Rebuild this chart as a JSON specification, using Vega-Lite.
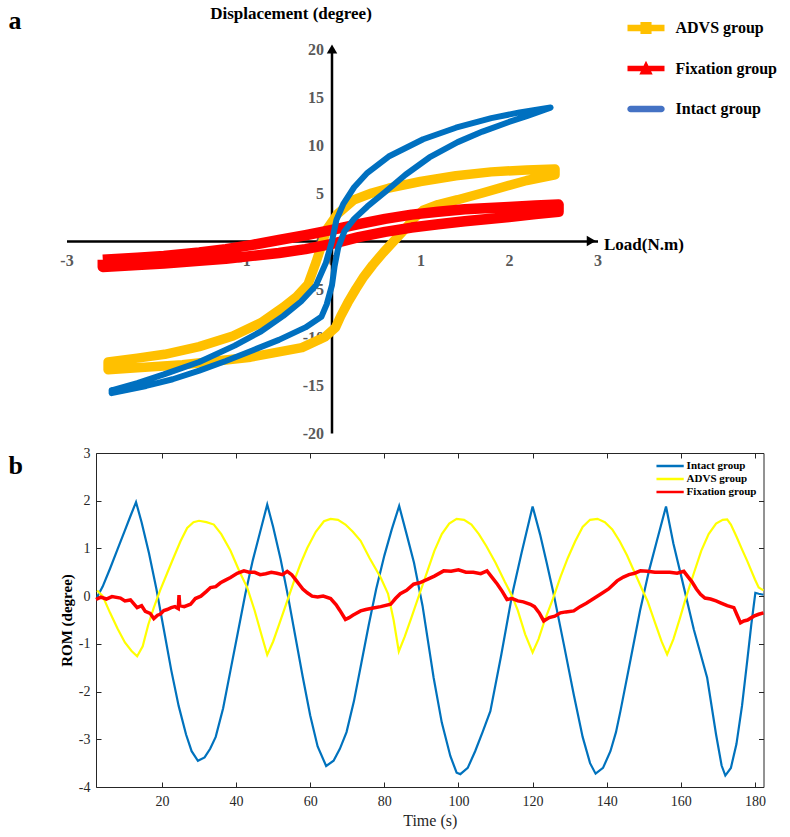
{
  "$schema": "https://vega.github.io/schema/vega-lite/v6.json",
  "padding": {"left": 8, "top": 4, "right": 5, "bottom": 5},
  "background": "white",
  "config": {"view": {"stroke": null}, "axis": {"grid": false}, "font": "Liberation Serif"},
  "spacing": 20,
  "bounds": "flush",
  "resolve": {"scale": {"color": "independent"}, "legend": {"color": "independent"}},
  "datasets": {
    "loops": [
      {"group":"ADVS group","i":0,"load":-2.53,"disp":-12.6},{"group":"ADVS group","i":1,"load":-2.2,"disp":-12.2},{"group":"ADVS group","i":2,"load":-1.89,"disp":-11.8},{"group":"ADVS group","i":3,"load":-1.5,"disp":-11.0},{"group":"ADVS group","i":4,"load":-1.12,"disp":-9.9},{"group":"ADVS group","i":5,"load":-0.8,"disp":-8.5},{"group":"ADVS group","i":6,"load":-0.55,"disp":-6.9},{"group":"ADVS group","i":7,"load":-0.4,"disp":-5.8},{"group":"ADVS group","i":8,"load":-0.27,"disp":-4.5},{"group":"ADVS group","i":9,"load":-0.18,"disp":-2.2},{"group":"ADVS group","i":10,"load":-0.06,"disp":1.2},{"group":"ADVS group","i":11,"load":0.06,"disp":2.8},{"group":"ADVS group","i":12,"load":0.25,"disp":4.3},{"group":"ADVS group","i":13,"load":0.45,"disp":5.0},{"group":"ADVS group","i":14,"load":0.64,"disp":5.5},{"group":"ADVS group","i":15,"load":1.0,"disp":6.2},{"group":"ADVS group","i":16,"load":1.4,"disp":6.8},{"group":"ADVS group","i":17,"load":1.8,"disp":7.2},{"group":"ADVS group","i":18,"load":2.2,"disp":7.4},{"group":"ADVS group","i":19,"load":2.52,"disp":7.5},{"group":"ADVS group","i":20,"load":2.52,"disp":6.9},{"group":"ADVS group","i":21,"load":2.2,"disp":6.3},{"group":"ADVS group","i":22,"load":2.0,"disp":5.8},{"group":"ADVS group","i":23,"load":1.7,"disp":5.0},{"group":"ADVS group","i":24,"load":1.42,"disp":4.3},{"group":"ADVS group","i":25,"load":1.2,"disp":3.8},{"group":"ADVS group","i":26,"load":1.03,"disp":3.2},{"group":"ADVS group","i":27,"load":0.93,"disp":2.4},{"group":"ADVS group","i":28,"load":0.82,"disp":1.2},{"group":"ADVS group","i":29,"load":0.7,"disp":0.0},{"group":"ADVS group","i":30,"load":0.58,"disp":-1.2},{"group":"ADVS group","i":31,"load":0.46,"disp":-2.5},{"group":"ADVS group","i":32,"load":0.36,"disp":-3.7},{"group":"ADVS group","i":33,"load":0.27,"disp":-5.0},{"group":"ADVS group","i":34,"load":0.18,"disp":-6.4},{"group":"ADVS group","i":35,"load":0.1,"disp":-7.8},{"group":"ADVS group","i":36,"load":0.04,"disp":-9.0},{"group":"ADVS group","i":37,"load":-0.08,"disp":-10.0},{"group":"ADVS group","i":38,"load":-0.34,"disp":-11.1},{"group":"ADVS group","i":39,"load":-0.92,"disp":-12.1},{"group":"ADVS group","i":40,"load":-1.69,"disp":-12.9},{"group":"ADVS group","i":41,"load":-2.2,"disp":-13.2},{"group":"ADVS group","i":42,"load":-2.53,"disp":-13.4},{"group":"ADVS group","i":43,"load":-2.53,"disp":-12.6},
      {"group":"Fixation group","i":0,"load":-2.59,"disp":-1.95},{"group":"Fixation group","i":1,"load":-2.2,"disp":-1.75},{"group":"Fixation group","i":2,"load":-1.9,"disp":-1.55},{"group":"Fixation group","i":3,"load":-1.5,"disp":-1.2},{"group":"Fixation group","i":4,"load":-1.2,"disp":-0.85},{"group":"Fixation group","i":5,"load":-0.9,"disp":-0.4},{"group":"Fixation group","i":6,"load":-0.6,"disp":0.1},{"group":"Fixation group","i":7,"load":-0.3,"disp":0.6},{"group":"Fixation group","i":8,"load":0.0,"disp":1.15},{"group":"Fixation group","i":9,"load":0.3,"disp":1.75},{"group":"Fixation group","i":10,"load":0.6,"disp":2.3},{"group":"Fixation group","i":11,"load":0.9,"disp":2.75},{"group":"Fixation group","i":12,"load":1.2,"disp":3.05},{"group":"Fixation group","i":13,"load":1.5,"disp":3.3},{"group":"Fixation group","i":14,"load":2.0,"disp":3.55},{"group":"Fixation group","i":15,"load":2.3,"disp":3.7},{"group":"Fixation group","i":16,"load":2.56,"disp":3.8},{"group":"Fixation group","i":17,"load":2.56,"disp":3.05},{"group":"Fixation group","i":18,"load":2.3,"disp":2.8},{"group":"Fixation group","i":19,"load":2.0,"disp":2.5},{"group":"Fixation group","i":20,"load":1.5,"disp":2.05},{"group":"Fixation group","i":21,"load":1.2,"disp":1.75},{"group":"Fixation group","i":22,"load":0.9,"disp":1.4},{"group":"Fixation group","i":23,"load":0.6,"disp":0.95},{"group":"Fixation group","i":24,"load":0.3,"disp":0.4},{"group":"Fixation group","i":25,"load":0.0,"disp":-0.3},{"group":"Fixation group","i":26,"load":-0.3,"disp":-0.85},{"group":"Fixation group","i":27,"load":-0.6,"disp":-1.25},{"group":"Fixation group","i":28,"load":-0.9,"disp":-1.55},{"group":"Fixation group","i":29,"load":-1.2,"disp":-1.85},{"group":"Fixation group","i":30,"load":-1.5,"disp":-2.05},{"group":"Fixation group","i":31,"load":-1.9,"disp":-2.35},{"group":"Fixation group","i":32,"load":-2.2,"disp":-2.5},{"group":"Fixation group","i":33,"load":-2.59,"disp":-2.7},{"group":"Fixation group","i":34,"load":-2.59,"disp":-1.95},
      {"group":"Intact group","i":0,"load":-2.49,"disp":-15.55},{"group":"Intact group","i":1,"load":-2.2,"disp":-14.8},{"group":"Intact group","i":2,"load":-1.9,"disp":-13.9},{"group":"Intact group","i":3,"load":-1.5,"disp":-12.6},{"group":"Intact group","i":4,"load":-1.1,"disp":-10.9},{"group":"Intact group","i":5,"load":-0.8,"disp":-9.4},{"group":"Intact group","i":6,"load":-0.55,"disp":-7.8},{"group":"Intact group","i":7,"load":-0.35,"disp":-6.3},{"group":"Intact group","i":8,"load":-0.18,"disp":-4.6},{"group":"Intact group","i":9,"load":-0.07,"disp":-2.3},{"group":"Intact group","i":10,"load":0.0,"disp":0.0},{"group":"Intact group","i":11,"load":0.05,"disp":2.2},{"group":"Intact group","i":12,"load":0.13,"disp":3.9},{"group":"Intact group","i":13,"load":0.25,"disp":5.6},{"group":"Intact group","i":14,"load":0.4,"disp":7.1},{"group":"Intact group","i":15,"load":0.64,"disp":8.8},{"group":"Intact group","i":16,"load":1.03,"disp":10.6},{"group":"Intact group","i":17,"load":1.4,"disp":11.8},{"group":"Intact group","i":18,"load":1.8,"disp":12.8},{"group":"Intact group","i":19,"load":2.12,"disp":13.4},{"group":"Intact group","i":20,"load":2.47,"disp":13.9},{"group":"Intact group","i":21,"load":2.2,"disp":13.0},{"group":"Intact group","i":22,"load":2.0,"disp":12.4},{"group":"Intact group","i":23,"load":1.7,"disp":11.4},{"group":"Intact group","i":24,"load":1.42,"disp":10.3},{"group":"Intact group","i":25,"load":1.1,"disp":8.7},{"group":"Intact group","i":26,"load":0.83,"disp":6.9},{"group":"Intact group","i":27,"load":0.6,"disp":5.1},{"group":"Intact group","i":28,"load":0.4,"disp":3.6},{"group":"Intact group","i":29,"load":0.25,"disp":2.3},{"group":"Intact group","i":30,"load":0.14,"disp":1.0},{"group":"Intact group","i":31,"load":0.07,"disp":-0.7},{"group":"Intact group","i":32,"load":0.03,"disp":-2.6},{"group":"Intact group","i":33,"load":0.0,"disp":-4.6},{"group":"Intact group","i":34,"load":-0.06,"disp":-6.6},{"group":"Intact group","i":35,"load":-0.12,"disp":-7.9},{"group":"Intact group","i":36,"load":-0.3,"disp":-9.0},{"group":"Intact group","i":37,"load":-0.6,"disp":-10.3},{"group":"Intact group","i":38,"load":-0.9,"disp":-11.4},{"group":"Intact group","i":39,"load":-1.2,"disp":-12.5},{"group":"Intact group","i":40,"load":-1.5,"disp":-13.5},{"group":"Intact group","i":41,"load":-1.8,"disp":-14.4},{"group":"Intact group","i":42,"load":-2.1,"disp":-15.1},{"group":"Intact group","i":43,"load":-2.49,"disp":-15.85},{"group":"Intact group","i":44,"load":-2.49,"disp":-15.55}
    ],
    "rom": [
      {"series":"Intact group","t":2.5,"rom":-0.02},{"series":"Intact group","t":4,"rom":0.2},{"series":"Intact group","t":6,"rom":0.58},{"series":"Intact group","t":8,"rom":0.98},{"series":"Intact group","t":10,"rom":1.38},{"series":"Intact group","t":11.5,"rom":1.68},{"series":"Intact group","t":13,"rom":1.97},{"series":"Intact group","t":14.5,"rom":1.55},{"series":"Intact group","t":16.5,"rom":0.9},{"series":"Intact group","t":18.5,"rom":0.15},{"series":"Intact group","t":20.5,"rom":-0.7},{"series":"Intact group","t":22.5,"rom":-1.55},{"series":"Intact group","t":24.5,"rom":-2.3},{"series":"Intact group","t":26.5,"rom":-2.9},{"series":"Intact group","t":28,"rom":-3.25},{"series":"Intact group","t":29.7,"rom":-3.45},{"series":"Intact group","t":31.5,"rom":-3.38},{"series":"Intact group","t":33,"rom":-3.2},{"series":"Intact group","t":34.5,"rom":-2.95},{"series":"Intact group","t":36.5,"rom":-2.35},{"series":"Intact group","t":38.5,"rom":-1.55},{"series":"Intact group","t":40.5,"rom":-0.75},{"series":"Intact group","t":42.5,"rom":0.05},{"series":"Intact group","t":44.5,"rom":0.75},{"series":"Intact group","t":46.5,"rom":1.35},{"series":"Intact group","t":48.4,"rom":1.92},{"series":"Intact group","t":50,"rom":1.45},{"series":"Intact group","t":52,"rom":0.78},{"series":"Intact group","t":54,"rom":0.0},{"series":"Intact group","t":56,"rom":-0.85},{"series":"Intact group","t":58,"rom":-1.7},{"series":"Intact group","t":60,"rom":-2.5},{"series":"Intact group","t":62,"rom":-3.15},{"series":"Intact group","t":64.3,"rom":-3.56},{"series":"Intact group","t":66.3,"rom":-3.45},{"series":"Intact group","t":68,"rom":-3.2},{"series":"Intact group","t":69.8,"rom":-2.85},{"series":"Intact group","t":71.8,"rom":-2.2},{"series":"Intact group","t":73.8,"rom":-1.4},{"series":"Intact group","t":75.8,"rom":-0.6},{"series":"Intact group","t":77.8,"rom":0.15},{"series":"Intact group","t":80,"rom":0.85},{"series":"Intact group","t":82,"rom":1.4},{"series":"Intact group","t":84,"rom":1.89},{"series":"Intact group","t":86,"rom":1.3},{"series":"Intact group","t":88,"rom":0.7},{"series":"Intact group","t":90.3,"rom":-0.2},{"series":"Intact group","t":93.3,"rom":-1.71},{"series":"Intact group","t":95.5,"rom":-2.65},{"series":"Intact group","t":97.8,"rom":-3.35},{"series":"Intact group","t":99.5,"rom":-3.7},{"series":"Intact group","t":100.5,"rom":-3.73},{"series":"Intact group","t":102.5,"rom":-3.6},{"series":"Intact group","t":104.5,"rom":-3.25},{"series":"Intact group","t":106.5,"rom":-2.85},{"series":"Intact group","t":108.6,"rom":-2.41},{"series":"Intact group","t":111.5,"rom":-1.25},{"series":"Intact group","t":114.5,"rom":0.04},{"series":"Intact group","t":117,"rom":0.9},{"series":"Intact group","t":120,"rom":1.88},{"series":"Intact group","t":122,"rom":1.3},{"series":"Intact group","t":123.8,"rom":0.7},{"series":"Intact group","t":125.7,"rom":0.04},{"series":"Intact group","t":128.4,"rom":-1.0},{"series":"Intact group","t":131.1,"rom":-2.06},{"series":"Intact group","t":133.5,"rom":-2.95},{"series":"Intact group","t":135.5,"rom":-3.5},{"series":"Intact group","t":137,"rom":-3.72},{"series":"Intact group","t":139,"rom":-3.6},{"series":"Intact group","t":141,"rom":-3.25},{"series":"Intact group","t":142.5,"rom":-2.85},{"series":"Intact group","t":143.7,"rom":-2.41},{"series":"Intact group","t":146.5,"rom":-1.3},{"series":"Intact group","t":149,"rom":-0.3},{"series":"Intact group","t":151.4,"rom":0.53},{"series":"Intact group","t":153.5,"rom":1.15},{"series":"Intact group","t":156,"rom":1.88},{"series":"Intact group","t":158,"rom":1.1},{"series":"Intact group","t":160.4,"rom":0.32},{"series":"Intact group","t":163.5,"rom":-0.7},{"series":"Intact group","t":167.1,"rom":-1.71},{"series":"Intact group","t":169.5,"rom":-2.9},{"series":"Intact group","t":171,"rom":-3.55},{"series":"Intact group","t":172,"rom":-3.76},{"series":"Intact group","t":173.5,"rom":-3.6},{"series":"Intact group","t":175,"rom":-3.1},{"series":"Intact group","t":176.5,"rom":-2.3},{"series":"Intact group","t":177.9,"rom":-1.36},{"series":"Intact group","t":179,"rom":-0.6},{"series":"Intact group","t":180.1,"rom":0.07},{"series":"Intact group","t":181,"rom":0.05},{"series":"Intact group","t":182.3,"rom":0.03},
      {"series":"ADVS group","t":2.5,"rom":0.12},{"series":"ADVS group","t":4,"rom":0.0},{"series":"ADVS group","t":6,"rom":-0.35},{"series":"ADVS group","t":8,"rom":-0.68},{"series":"ADVS group","t":10,"rom":-0.97},{"series":"ADVS group","t":11.8,"rom":-1.15},{"series":"ADVS group","t":13.3,"rom":-1.26},{"series":"ADVS group","t":14.8,"rom":-1.05},{"series":"ADVS group","t":16.3,"rom":-0.6},{"series":"ADVS group","t":17.8,"rom":-0.24},{"series":"ADVS group","t":19.5,"rom":0.12},{"series":"ADVS group","t":21.5,"rom":0.5},{"series":"ADVS group","t":23.2,"rom":0.82},{"series":"ADVS group","t":25,"rom":1.15},{"series":"ADVS group","t":26.8,"rom":1.43},{"series":"ADVS group","t":28.5,"rom":1.55},{"series":"ADVS group","t":30,"rom":1.58},{"series":"ADVS group","t":32,"rom":1.55},{"series":"ADVS group","t":34,"rom":1.5},{"series":"ADVS group","t":36,"rom":1.3},{"series":"ADVS group","t":38.5,"rom":0.95},{"series":"ADVS group","t":41,"rom":0.5},{"series":"ADVS group","t":43,"rom":0.18},{"series":"ADVS group","t":45,"rom":-0.3},{"series":"ADVS group","t":46.8,"rom":-0.8},{"series":"ADVS group","t":48.4,"rom":-1.23},{"series":"ADVS group","t":50,"rom":-0.95},{"series":"ADVS group","t":51.8,"rom":-0.55},{"series":"ADVS group","t":53.8,"rom":-0.1},{"series":"ADVS group","t":55.8,"rom":0.35},{"series":"ADVS group","t":57.5,"rom":0.7},{"series":"ADVS group","t":59.2,"rom":1.01},{"series":"ADVS group","t":61.5,"rom":1.35},{"series":"ADVS group","t":63.7,"rom":1.57},{"series":"ADVS group","t":65.5,"rom":1.62},{"series":"ADVS group","t":67.5,"rom":1.6},{"series":"ADVS group","t":69.5,"rom":1.5},{"series":"ADVS group","t":71.5,"rom":1.35},{"series":"ADVS group","t":73.6,"rom":1.16},{"series":"ADVS group","t":76,"rom":0.8},{"series":"ADVS group","t":79,"rom":0.39},{"series":"ADVS group","t":81,"rom":0.05},{"series":"ADVS group","t":82.5,"rom":-0.5},{"series":"ADVS group","t":83.9,"rom":-1.16},{"series":"ADVS group","t":85.5,"rom":-0.85},{"series":"ADVS group","t":87.3,"rom":-0.45},{"series":"ADVS group","t":89.5,"rom":0.05},{"series":"ADVS group","t":91.5,"rom":0.5},{"series":"ADVS group","t":93.5,"rom":0.95},{"series":"ADVS group","t":95.5,"rom":1.3},{"series":"ADVS group","t":97.5,"rom":1.52},{"series":"ADVS group","t":99.5,"rom":1.62},{"series":"ADVS group","t":101.5,"rom":1.6},{"series":"ADVS group","t":103.5,"rom":1.5},{"series":"ADVS group","t":105.5,"rom":1.3},{"series":"ADVS group","t":107.5,"rom":1.05},{"series":"ADVS group","t":110,"rom":0.7},{"series":"ADVS group","t":112.5,"rom":0.3},{"series":"ADVS group","t":114.5,"rom":0.0},{"series":"ADVS group","t":116,"rom":-0.3},{"series":"ADVS group","t":118,"rom":-0.8},{"series":"ADVS group","t":120,"rom":-1.18},{"series":"ADVS group","t":121.6,"rom":-0.9},{"series":"ADVS group","t":123.3,"rom":-0.5},{"series":"ADVS group","t":125.5,"rom":-0.05},{"series":"ADVS group","t":127.5,"rom":0.4},{"series":"ADVS group","t":129.5,"rom":0.8},{"series":"ADVS group","t":131.5,"rom":1.15},{"series":"ADVS group","t":133.5,"rom":1.45},{"series":"ADVS group","t":135.5,"rom":1.6},{"series":"ADVS group","t":137.5,"rom":1.62},{"series":"ADVS group","t":139.5,"rom":1.55},{"series":"ADVS group","t":141.5,"rom":1.4},{"series":"ADVS group","t":143.5,"rom":1.15},{"series":"ADVS group","t":145.5,"rom":0.85},{"series":"ADVS group","t":147.5,"rom":0.5},{"series":"ADVS group","t":149.5,"rom":0.15},{"series":"ADVS group","t":151,"rom":-0.1},{"series":"ADVS group","t":153,"rom":-0.55},{"series":"ADVS group","t":154.8,"rom":-0.95},{"series":"ADVS group","t":156.3,"rom":-1.22},{"series":"ADVS group","t":158,"rom":-0.9},{"series":"ADVS group","t":159.8,"rom":-0.45},{"series":"ADVS group","t":161.5,"rom":0.0},{"series":"ADVS group","t":163.5,"rom":0.48},{"series":"ADVS group","t":165.5,"rom":0.95},{"series":"ADVS group","t":167.5,"rom":1.3},{"series":"ADVS group","t":169.5,"rom":1.52},{"series":"ADVS group","t":171.3,"rom":1.6},{"series":"ADVS group","t":172.5,"rom":1.61},{"series":"ADVS group","t":173.5,"rom":1.5},{"series":"ADVS group","t":175,"rom":1.25},{"series":"ADVS group","t":176.5,"rom":0.98},{"series":"ADVS group","t":177.9,"rom":0.74},{"series":"ADVS group","t":180,"rom":0.35},{"series":"ADVS group","t":181,"rom":0.18},{"series":"ADVS group","t":182.3,"rom":0.12},
      {"series":"Fixation group","t":2.2,"rom":-0.07},{"series":"Fixation group","t":3.5,"rom":-0.02},{"series":"Fixation group","t":5,"rom":-0.06},{"series":"Fixation group","t":6.5,"rom":-0.01},{"series":"Fixation group","t":8.8,"rom":-0.04},{"series":"Fixation group","t":10,"rom":-0.1},{"series":"Fixation group","t":11.5,"rom":-0.08},{"series":"Fixation group","t":13.3,"rom":-0.24},{"series":"Fixation group","t":14.5,"rom":-0.2},{"series":"Fixation group","t":15.5,"rom":-0.32},{"series":"Fixation group","t":16.8,"rom":-0.36},{"series":"Fixation group","t":17.8,"rom":-0.47},{"series":"Fixation group","t":18.8,"rom":-0.4},{"series":"Fixation group","t":19.5,"rom":-0.38},{"series":"Fixation group","t":20.5,"rom":-0.3},{"series":"Fixation group","t":21.4,"rom":-0.28},{"series":"Fixation group","t":22.5,"rom":-0.24},{"series":"Fixation group","t":23.5,"rom":-0.22},{"series":"Fixation group","t":24.4,"rom":-0.26},{"series":"Fixation group","t":24.6,"rom":0.02},{"series":"Fixation group","t":24.8,"rom":-0.2},{"series":"Fixation group","t":26,"rom":-0.22},{"series":"Fixation group","t":27.7,"rom":-0.17},{"series":"Fixation group","t":29,"rom":-0.05},{"series":"Fixation group","t":30.5,"rom":0.0},{"series":"Fixation group","t":32,"rom":0.1},{"series":"Fixation group","t":33.1,"rom":0.18},{"series":"Fixation group","t":34.5,"rom":0.2},{"series":"Fixation group","t":35.8,"rom":0.28},{"series":"Fixation group","t":37,"rom":0.33},{"series":"Fixation group","t":38.5,"rom":0.39},{"series":"Fixation group","t":40.3,"rom":0.48},{"series":"Fixation group","t":42.1,"rom":0.53},{"series":"Fixation group","t":43.5,"rom":0.5},{"series":"Fixation group","t":45,"rom":0.5},{"series":"Fixation group","t":46.5,"rom":0.45},{"series":"Fixation group","t":48,"rom":0.47},{"series":"Fixation group","t":49.5,"rom":0.5},{"series":"Fixation group","t":51,"rom":0.48},{"series":"Fixation group","t":52.5,"rom":0.45},{"series":"Fixation group","t":53.8,"rom":0.52},{"series":"Fixation group","t":55,"rom":0.45},{"series":"Fixation group","t":56,"rom":0.35},{"series":"Fixation group","t":57,"rom":0.25},{"series":"Fixation group","t":58,"rom":0.15},{"series":"Fixation group","t":59.2,"rom":0.07},{"series":"Fixation group","t":60.5,"rom":0.0},{"series":"Fixation group","t":62,"rom":-0.02},{"series":"Fixation group","t":63.5,"rom":0.0},{"series":"Fixation group","t":65.5,"rom":-0.05},{"series":"Fixation group","t":67,"rom":-0.18},{"series":"Fixation group","t":68,"rom":-0.3},{"series":"Fixation group","t":69.5,"rom":-0.49},{"series":"Fixation group","t":70.5,"rom":-0.45},{"series":"Fixation group","t":71.5,"rom":-0.4},{"series":"Fixation group","t":73.6,"rom":-0.31},{"series":"Fixation group","t":75,"rom":-0.28},{"series":"Fixation group","t":77,"rom":-0.25},{"series":"Fixation group","t":79,"rom":-0.22},{"series":"Fixation group","t":81.7,"rom":-0.17},{"series":"Fixation group","t":83,"rom":-0.05},{"series":"Fixation group","t":84.3,"rom":0.05},{"series":"Fixation group","t":86,"rom":0.12},{"series":"Fixation group","t":87.9,"rom":0.25},{"series":"Fixation group","t":89.5,"rom":0.28},{"series":"Fixation group","t":91.6,"rom":0.35},{"series":"Fixation group","t":93.5,"rom":0.42},{"series":"Fixation group","t":96,"rom":0.53},{"series":"Fixation group","t":98,"rom":0.52},{"series":"Fixation group","t":100,"rom":0.55},{"series":"Fixation group","t":102,"rom":0.5},{"series":"Fixation group","t":104,"rom":0.5},{"series":"Fixation group","t":106,"rom":0.47},{"series":"Fixation group","t":107.7,"rom":0.53},{"series":"Fixation group","t":109,"rom":0.4},{"series":"Fixation group","t":110.5,"rom":0.25},{"series":"Fixation group","t":111.8,"rom":0.1},{"series":"Fixation group","t":113.1,"rom":-0.07},{"series":"Fixation group","t":114.5,"rom":-0.05},{"series":"Fixation group","t":116,"rom":-0.1},{"series":"Fixation group","t":117.5,"rom":-0.12},{"series":"Fixation group","t":119.4,"rom":-0.17},{"series":"Fixation group","t":120.5,"rom":-0.22},{"series":"Fixation group","t":121.8,"rom":-0.35},{"series":"Fixation group","t":123,"rom":-0.52},{"series":"Fixation group","t":124.5,"rom":-0.45},{"series":"Fixation group","t":126,"rom":-0.42},{"series":"Fixation group","t":127.5,"rom":-0.35},{"series":"Fixation group","t":129,"rom":-0.33},{"series":"Fixation group","t":131.1,"rom":-0.31},{"series":"Fixation group","t":132.8,"rom":-0.22},{"series":"Fixation group","t":134.5,"rom":-0.15},{"series":"Fixation group","t":136.5,"rom":-0.05},{"series":"Fixation group","t":138.3,"rom":0.04},{"series":"Fixation group","t":140.5,"rom":0.15},{"series":"Fixation group","t":142.8,"rom":0.32},{"series":"Fixation group","t":144.5,"rom":0.4},{"series":"Fixation group","t":146,"rom":0.45},{"series":"Fixation group","t":147.5,"rom":0.48},{"series":"Fixation group","t":149.1,"rom":0.53},{"series":"Fixation group","t":151,"rom":0.52},{"series":"Fixation group","t":153,"rom":0.5},{"series":"Fixation group","t":155,"rom":0.5},{"series":"Fixation group","t":157,"rom":0.5},{"series":"Fixation group","t":159,"rom":0.48},{"series":"Fixation group","t":160.8,"rom":0.52},{"series":"Fixation group","t":162,"rom":0.4},{"series":"Fixation group","t":163,"rom":0.3},{"series":"Fixation group","t":164.2,"rom":0.15},{"series":"Fixation group","t":165.3,"rom":0.04},{"series":"Fixation group","t":166.5,"rom":-0.04},{"series":"Fixation group","t":168,"rom":-0.06},{"series":"Fixation group","t":169.5,"rom":-0.1},{"series":"Fixation group","t":170.7,"rom":-0.14},{"series":"Fixation group","t":172.5,"rom":-0.2},{"series":"Fixation group","t":174.3,"rom":-0.24},{"series":"Fixation group","t":175.2,"rom":-0.4},{"series":"Fixation group","t":176.1,"rom":-0.56},{"series":"Fixation group","t":177,"rom":-0.52},{"series":"Fixation group","t":178,"rom":-0.5},{"series":"Fixation group","t":179.7,"rom":-0.42},{"series":"Fixation group","t":181,"rom":-0.38},{"series":"Fixation group","t":182.3,"rom":-0.35}
    ]
  },
  "vconcat": [
    {
      "width": 667.5,
      "height": 384,
      "title": {"text": "a", "anchor": "start", "frame": "group", "dx": -87.5, "dy": 51, "offset": 0, "baseline": "alphabetic", "font": "Liberation Serif", "fontSize": 26, "fontWeight": "bold", "color": "#000000"},
      "layer": [
        {
          "data": {"name": "loops"},
          "transform": [{"filter": "datum.group === 'ADVS group'"}],
          "mark": {"type": "line", "strokeWidth": 9.5, "strokeJoin": "round", "strokeCap": "round"},
          "encoding": {
            "x": {"field": "load", "type": "quantitative",
              "scale": {"domain": [-3, 3], "range": [-29.5, 501.5], "nice": false, "zero": false},
              "axis": {"orient": "bottom", "offset": -192, "values": [-3, -2, -1, 0, 1, 2, 3], "labelExpr": "'' + datum.value", "ticks": false, "domainColor": "#000000", "domainWidth": 2.5,
                "labelFont": "Liberation Serif", "labelFontSize": 16, "labelFontWeight": "bold", "labelColor": "#595959", "labelPadding": 11, "labelFlush": false, "labelOverlap": false,
                "title": "Load(N.m)", "titleFont": "Liberation Serif", "titleFontSize": 17, "titleFontWeight": "bold", "titleColor": "#000000", "titleX": 507.5, "titleY": 3, "titleAlign": "left", "titleBaseline": "middle", "titleAngle": 0}},
            "y": {"field": "disp", "type": "quantitative",
              "scale": {"domain": [-20, 20], "nice": false, "zero": false},
              "axis": {"orient": "left", "offset": -235.5, "values": [-20, -15, -10, -5, 0, 5, 10, 15, 20], "labelExpr": "'' + datum.value", "ticks": false, "domainColor": "#000000", "domainWidth": 2.5,
                "labelFont": "Liberation Serif", "labelFontSize": 16, "labelFontWeight": "bold", "labelColor": "#595959", "labelPadding": 8, "labelOverlap": false,
                "title": "Displacement (degree)", "titleFont": "Liberation Serif", "titleFontSize": 17, "titleFontWeight": "bold", "titleColor": "#000000", "titleAngle": 0, "titleX": -41, "titleY": -31, "titleAlign": "center", "titleBaseline": "alphabetic"}},
            "color": {"field": "group", "type": "nominal",
              "scale": {"domain": ["ADVS group", "Fixation group", "Intact group"], "range": ["#FFC000", "#FF0000", "#0070C0"]},
              "legend": {"orient": "none", "legendX": 531.5, "legendY": -39.5, "title": null, "padding": 0, "symbolSize": 1369, "symbolStrokeWidth": 0, "rowPadding": 13.5, "labelOffset": 11,
                "labelFont": "Liberation Serif", "labelFontSize": 16, "labelFontWeight": "bold", "labelColor": "#000000",
                "encode": {"symbols": {"update": {
                  "shape": {"signal": "datum.value === 'ADVS group' ? 'M-1,-0.17H1V0.17H-1Z M-0.3,-0.32H0.3V0.32H-0.3Z' : datum.value === 'Fixation group' ? 'M-1,-0.15H1V0.15H-1Z M0,-0.42L0.36,0.32H-0.36Z' : 'M-0.83,-0.18H0.83A0.18,0.18 0 0 1 0.83,0.18H-0.83A0.18,0.18 0 0 1 -0.83,-0.18Z'"},
                  "fill": {"signal": "datum.value === 'ADVS group' ? '#FFC000' : datum.value === 'Fixation group' ? '#FF0000' : '#4472C4'"},
                  "fillOpacity": {"value": 1},
                  "strokeWidth": {"value": 0}}}}}},
            "order": {"field": "i", "type": "quantitative"}
          }
        },
        {
          "data": {"name": "loops"},
          "transform": [{"filter": "datum.group === 'Fixation group'"}],
          "mark": {"type": "line", "strokeWidth": 10.5, "strokeJoin": "round", "strokeCap": "butt"},
          "encoding": {
            "x": {"field": "load", "type": "quantitative"},
            "y": {"field": "disp", "type": "quantitative"},
            "color": {"field": "group", "type": "nominal"},
            "order": {"field": "i", "type": "quantitative"}
          }
        },
        {
          "data": {"name": "loops"},
          "transform": [{"filter": "datum.group === 'Intact group'"}],
          "mark": {"type": "line", "strokeWidth": 6, "strokeJoin": "round", "strokeCap": "round"},
          "encoding": {
            "x": {"field": "load", "type": "quantitative"},
            "y": {"field": "disp", "type": "quantitative"},
            "color": {"field": "group", "type": "nominal"},
            "order": {"field": "i", "type": "quantitative"}
          }
        },
        {
          "data": {"values": [{}]},
          "mark": {"type": "point", "shape": "triangle-right", "filled": true, "color": "#000000", "size": 110, "opacity": 1},
          "encoding": {"x": {"datum": 2.93, "type": "quantitative"}, "y": {"datum": 0, "type": "quantitative"}}
        },
        {
          "data": {"values": [{}]},
          "mark": {"type": "point", "shape": "triangle-up", "filled": true, "color": "#000000", "size": 110, "opacity": 1},
          "encoding": {"x": {"datum": 0, "type": "quantitative"}, "y": {"datum": 20, "type": "quantitative"}}
        }
      ]
    },
    {
      "width": 667.5,
      "height": 334,
      "title": {"text": "b", "anchor": "start", "frame": "group", "dx": -87.5, "dy": 54, "offset": 0, "baseline": "alphabetic", "font": "Liberation Serif", "fontSize": 26, "fontWeight": "bold", "color": "#000000"},
      "data": {"name": "rom"},
      "resolve": {"axis": {"x": "independent", "y": "independent"}},
      "layer": [
        {
          "transform": [{"filter": "datum.series !== 'Fixation group'"}],
          "mark": {"type": "line", "strokeWidth": 2.2},
          "encoding": {
            "x": {"field": "t", "type": "quantitative", "scale": {"domain": [2.2, 182.3], "nice": false, "zero": false},
              "axis": {"orient": "bottom", "values": [20, 40, 60, 80, 100, 120, 140, 160, 180], "tickSize": -5, "tickColor": "#262626", "domainColor": "#262626",
                "labelFont": "Liberation Serif", "labelFontSize": 14, "labelColor": "#262626", "labelPadding": 12, "labelFlush": false,
                "title": "Time (s)", "titleFont": "Liberation Serif", "titleFontSize": 16, "titleFontWeight": "normal", "titleColor": "#262626", "titlePadding": 4}},
            "y": {"field": "rom", "type": "quantitative", "scale": {"domain": [-4, 3], "nice": false, "zero": false},
              "axis": {"orient": "left", "values": [-4, -3, -2, -1, 0, 1, 2, 3], "labelExpr": "'' + datum.value", "tickSize": -5, "tickColor": "#262626", "domainColor": "#262626",
                "labelFont": "Liberation Serif", "labelFontSize": 14, "labelColor": "#262626", "labelPadding": 11,
                "title": "ROM (degree)", "titleFont": "Liberation Serif", "titleFontSize": 15, "titleFontWeight": "bold", "titleColor": "#000000", "titlePadding": 4}},
            "color": {"field": "series", "type": "nominal",
              "scale": {"domain": ["Intact group", "ADVS group", "Fixation group"], "range": ["#0072BD", "#FFFF00", "#FF0000"]},
              "legend": {"orient": "none", "legendX": 567.6, "legendY": 6.5, "title": null, "padding": 0, "symbolType": "M-2.6,0H2.6", "symbolSize": 110, "symbolStrokeWidth": 2.5, "rowPadding": 1, "labelOffset": 10,
                "labelFont": "Liberation Serif", "labelFontSize": 11, "labelFontWeight": "bold", "labelColor": "#000000"}}
          }
        },
        {
          "transform": [{"filter": "datum.series === 'Fixation group'"}],
          "mark": {"type": "line", "strokeWidth": 3.5},
          "encoding": {
            "x": {"field": "t", "type": "quantitative",
              "axis": {"orient": "top", "values": [20, 40, 60, 80, 100, 120, 140, 160, 180], "tickSize": -5, "tickColor": "#262626", "domainColor": "#262626", "labels": false, "title": null}},
            "y": {"field": "rom", "type": "quantitative",
              "axis": {"orient": "right", "values": [-4, -3, -2, -1, 0, 1, 2, 3], "tickSize": -5, "tickColor": "#262626", "domainColor": "#262626", "labels": false, "title": null}},
            "color": {"field": "series", "type": "nominal"}
          }
        }
      ]
    }
  ]
}
